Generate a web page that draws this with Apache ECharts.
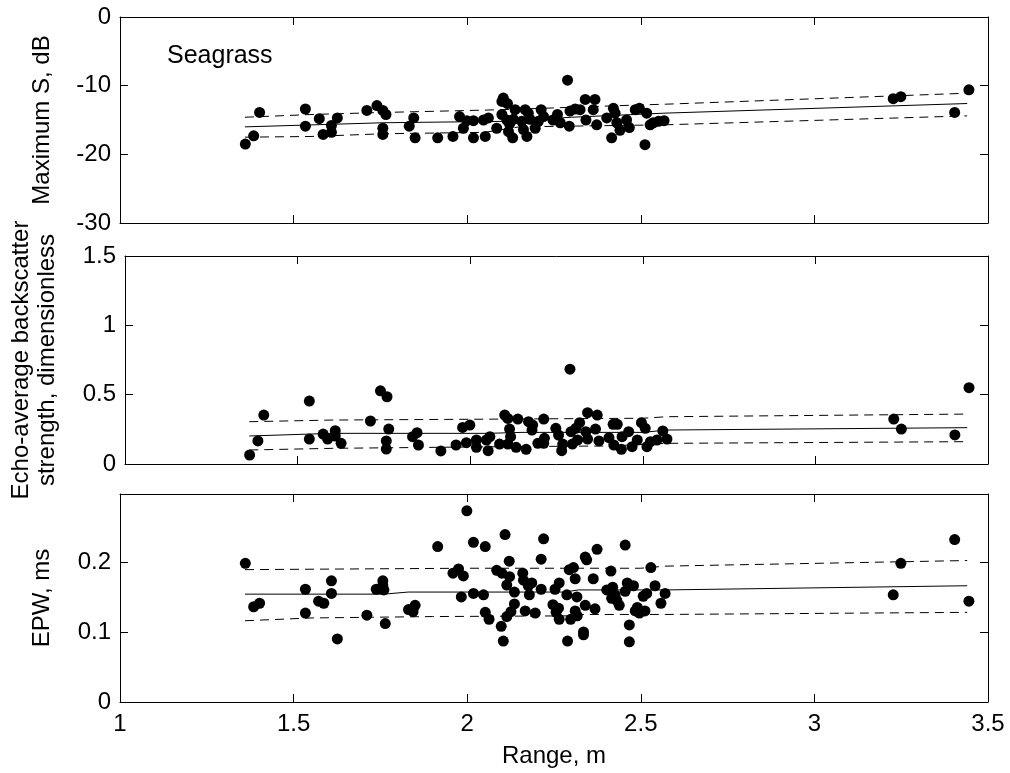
<!DOCTYPE html>
<html>
<head>
<meta charset="utf-8">
<title>Seagrass</title>
<script src="https://cdn.jsdelivr.net/npm/echarts@6/dist/echarts.min.js"></script>
<style>
  html, body { margin: 0; padding: 0; background: #fff; }
  #chart { width: 1010px; height: 773px; }
</style>
</head>
<body>
<div id="chart"></div>
<script>
// Range tick labels shared by all three panels
const rangeTicks = [1, 1.5, 2, 2.5, 3, 3.5];

// Panel 1: maximum backscatter strength S (dB) versus range (m)
const maxSPoints = [
  [1.361,-18.5],[1.385,-17.3],[1.402,-13.9],[1.534,-13.4],[1.534,-15.9],[1.574,-14.8],
  [1.585,-17.1],[1.609,-16.8],[1.609,-15.8],[1.626,-14.7],[1.711,-13.6],[1.740,-12.9],
  [1.757,-13.6],[1.766,-14.2],[1.757,-16.2],[1.757,-17.1],[1.833,-15.9],[1.846,-14.7],
  [1.850,-17.6],[1.915,-17.6],[1.959,-17.4],[1.978,-14.5],[1.989,-16.2],[1.999,-15.1],
  [2.018,-15.1],[2.018,-17.6],[2.047,-15.0],[2.052,-17.4],[2.061,-14.7],[2.085,-16.2],
  [2.100,-12.3],[2.104,-11.8],[2.116,-12.6],[2.100,-14.2],[2.114,-15.0],[2.133,-14.9],
  [2.138,-13.5],[2.119,-16.7],[2.131,-17.6],[2.122,-15.6],[2.157,-15.2],[2.167,-13.5],
  [2.172,-17.4],[2.162,-16.4],[2.176,-14.0],[2.181,-14.9],[2.196,-16.2],[2.205,-15.2],
  [2.213,-13.5],[2.220,-14.5],[2.247,-15.0],[2.260,-14.2],[2.268,-15.4],[2.289,-9.2],
  [2.294,-15.9],[2.296,-13.7],[2.311,-13.4],[2.325,-13.5],[2.340,-12.0],[2.342,-15.0],
  [2.363,-13.5],[2.368,-12.0],[2.373,-15.7],[2.402,-14.7],[2.416,-17.6],[2.421,-13.3],
  [2.426,-14.0],[2.431,-15.4],[2.440,-16.5],[2.459,-15.0],[2.467,-16.1],[2.484,-13.5],
  [2.496,-13.3],[2.512,-18.6],[2.517,-14.0],[2.527,-15.7],[2.536,-15.4],[2.551,-15.2],
  [2.567,-15.1],[3.227,-11.9],[3.249,-11.6],[3.404,-13.9],[3.445,-10.6]
];
const maxSFitX   = [1.36, 1.76, 2.10, 2.30, 2.57, 3.44];
const maxSFit    = [-16.0, -15.4, -15.2, -14.6, -14.0, -12.6];
const maxSUpperX = [1.36, 1.55, 1.76, 2.10, 2.50, 2.57, 3.44];
const maxSUpper  = [-14.6, -14.2, -13.9, -13.5, -12.8, -12.7, -11.1];
const maxSLowerX = [1.36, 1.55, 1.76, 2.05, 2.15, 2.57, 3.44];
const maxSLower  = [-17.5, -17.4, -17.0, -16.8, -16.0, -15.7, -14.4];

// Panel 2: echo-average backscatter strength (dimensionless) versus range
const echoPoints = [
  [1.361,0.065],[1.385,0.166],[1.402,0.353],[1.534,0.454],[1.534,0.180],[1.574,0.216],
  [1.587,0.180],[1.609,0.240],[1.609,0.202],[1.626,0.149],[1.711,0.310],[1.740,0.528],
  [1.759,0.485],[1.764,0.252],[1.757,0.166],[1.757,0.108],[1.833,0.197],[1.846,0.226],
  [1.850,0.137],[1.915,0.094],[1.959,0.137],[1.978,0.264],[1.989,0.154],[1.999,0.281],
  [2.018,0.173],[2.018,0.120],[2.047,0.173],[2.052,0.096],[2.057,0.197],[2.085,0.144],
  [2.100,0.353],[2.109,0.329],[2.138,0.324],[2.114,0.252],[2.117,0.197],[2.109,0.144],
  [2.133,0.120],[2.162,0.106],[2.169,0.305],[2.179,0.245],[2.181,0.281],[2.196,0.149],
  [2.213,0.324],[2.215,0.185],[2.213,0.149],[2.248,0.257],[2.256,0.209],[2.265,0.096],
  [2.268,0.144],[2.289,0.684],[2.292,0.233],[2.296,0.144],[2.306,0.257],[2.311,0.173],
  [2.317,0.298],[2.335,0.233],[2.340,0.180],[2.340,0.370],[2.368,0.353],[2.363,0.252],
  [2.373,0.166],[2.402,0.190],[2.414,0.286],[2.426,0.286],[2.416,0.137],[2.438,0.106],
  [2.440,0.197],[2.459,0.233],[2.469,0.125],[2.484,0.173],[2.496,0.298],[2.507,0.257],
  [2.512,0.125],[2.522,0.161],[2.541,0.173],[2.558,0.238],[2.570,0.180],[3.227,0.324],
  [3.249,0.252],[3.404,0.210],[3.445,0.550]
];
const echoFitX   = [1.36, 1.60, 2.05, 2.15, 2.50, 2.57, 3.44];
const echoFit    = [0.202, 0.221, 0.221, 0.228, 0.228, 0.245, 0.262];
const echoUpperX = [1.36, 1.60, 2.10, 2.50, 2.57, 3.44];
const echoUpper  = [0.305, 0.317, 0.324, 0.330, 0.341, 0.360];
const echoLowerX = [1.36, 1.60, 2.10, 2.40, 2.57, 3.44];
const echoLower  = [0.101, 0.113, 0.125, 0.130, 0.149, 0.161];

// Panel 3: echo pulse width EPW (ms) versus range
const epwPoints = [
  [1.361,0.198],[1.385,0.136],[1.402,0.141],[1.534,0.161],[1.534,0.127],[1.572,0.144],
  [1.587,0.141],[1.609,0.173],[1.609,0.155],[1.626,0.090],[1.711,0.124],[1.738,0.161],
  [1.757,0.173],[1.757,0.166],[1.760,0.160],[1.764,0.112],[1.831,0.132],[1.844,0.129],
  [1.850,0.138],[1.915,0.222],[1.959,0.184],[1.975,0.190],[1.989,0.180],[1.983,0.150],
  [1.999,0.273],[2.018,0.228],[2.018,0.155],[2.047,0.153],[2.052,0.222],[2.052,0.128],
  [2.063,0.118],[2.085,0.188],[2.100,0.184],[2.098,0.108],[2.104,0.087],[2.109,0.239],
  [2.121,0.201],[2.122,0.179],[2.114,0.167],[2.136,0.157],[2.136,0.140],[2.126,0.129],
  [2.114,0.122],[2.160,0.184],[2.162,0.174],[2.167,0.130],[2.176,0.166],[2.179,0.153],
  [2.186,0.170],[2.196,0.127],[2.213,0.204],[2.213,0.161],[2.220,0.233],[2.247,0.139],
  [2.253,0.161],[2.256,0.128],[2.265,0.170],[2.263,0.134],[2.265,0.118],[2.287,0.153],
  [2.289,0.087],[2.294,0.189],[2.306,0.192],[2.311,0.176],[2.316,0.150],[2.311,0.130],
  [2.317,0.123],[2.298,0.118],[2.335,0.100],[2.335,0.096],[2.340,0.207],[2.344,0.203],
  [2.340,0.138],[2.363,0.176],[2.368,0.133],[2.374,0.218],[2.402,0.160],[2.414,0.187],
  [2.419,0.164],[2.416,0.148],[2.426,0.153],[2.431,0.145],[2.438,0.138],[2.455,0.224],
  [2.455,0.158],[2.461,0.170],[2.467,0.110],[2.467,0.086],[2.479,0.166],[2.484,0.130],
  [2.490,0.135],[2.496,0.127],[2.512,0.130],[2.507,0.151],[2.517,0.155],[2.529,0.192],
  [2.541,0.166],[2.558,0.141],[2.570,0.155],[3.227,0.153],[3.249,0.198],[3.404,0.232],
  [3.445,0.144]
];
const epwFitX   = [1.36, 1.76, 1.83, 2.28, 2.32, 2.57, 3.44];
const epwFit    = [0.154, 0.154, 0.157, 0.157, 0.160, 0.160, 0.166];
const epwUpperX = [1.36, 2.00, 2.50, 2.57, 3.44];
const epwUpper  = [0.189, 0.191, 0.191, 0.194, 0.202];
const epwLowerX = [1.36, 1.55, 1.90, 2.30, 2.33, 2.57, 3.44];
const epwLower  = [0.116, 0.120, 0.122, 0.123, 0.125, 0.125, 0.128];

const FONT = '"Liberation Sans", Arial, Helvetica, sans-serif';
const INK = '#000';

const grids = [
  { left: 120, right: 22, top: 17,  height: 206 },
  { left: 120, right: 22, top: 256, height: 208 },
  { left: 120, right: 22, top: 494, height: 208 }
];

const panels = [
  { name: 'Maximum S, dB', min: -30, max: 0, interval: 10,
    points: maxSPoints, fit: [maxSFitX, maxSFit], upper: [maxSUpperX, maxSUpper], lower: [maxSLowerX, maxSLower] },
  { name: 'Echo-average backscatter\nstrength, dimensionless', min: 0, max: 1.5, interval: 0.5,
    points: echoPoints, fit: [echoFitX, echoFit], upper: [echoUpperX, echoUpper], lower: [echoLowerX, echoLower] },
  { name: 'EPW, ms', min: 0, max: 0.297, interval: 0.1,
    points: epwPoints, fit: [epwFitX, epwFit], upper: [epwUpperX, epwUpper], lower: [epwLowerX, epwLower] }
];

const tickStyle = { show: true, inside: true, length: 8, lineStyle: { color: INK, width: 1 } };
const lineStyleAxis = { show: true, onZero: false, lineStyle: { color: INK, width: 1 } };
const labelStyle = { color: INK, fontFamily: FONT, fontSize: 24 };

const xAxes = [], yAxes = [], series = [];

function pairs(xs, ys) { return xs.map((x, i) => [x, ys[i]]); }

panels.forEach((p, i) => {
  const isLast = i === panels.length - 1;
  // bottom range axis (labels only on the lowest panel)
  xAxes.push({
    type: 'value', gridIndex: i, position: 'bottom', min: 1, max: 3.5, interval: 0.5,
    axisLine: lineStyleAxis, axisTick: tickStyle, splitLine: { show: false },
    axisLabel: Object.assign({ show: isLast, margin: 10,
      formatter: v => rangeTicks.some(t => Math.abs(t - v) < 1e-9) ? String(+v.toFixed(1)) : '' }, labelStyle),
    name: isLast ? 'Range, m' : '', nameLocation: 'middle', nameGap: 42,
    nameTextStyle: { color: INK, fontFamily: FONT, fontSize: 24 }
  });
  // top frame edge with inward ticks
  xAxes.push({
    type: 'value', gridIndex: i, position: 'top', min: 1, max: 3.5, interval: 0.5,
    axisLine: lineStyleAxis, axisTick: tickStyle, axisLabel: { show: false }, splitLine: { show: false }
  });
  const step = p.interval;
  yAxes.push({
    type: 'value', gridIndex: i, position: 'left', min: p.min, max: p.max, interval: p.interval,
    axisLine: lineStyleAxis, axisTick: tickStyle, splitLine: { show: false },
    axisLabel: Object.assign({ margin: 9, showMaxLabel: i !== 2,
      formatter: v => {
        const k = Math.round(v / step);
        if (Math.abs(k * step - v) > 1e-6) return '';
        return String(+(k * step).toFixed(2));
      } }, labelStyle),
    name: p.name, nameLocation: 'middle', nameRotate: 90, nameGap: 65,
    nameTextStyle: { color: INK, fontFamily: FONT, fontSize: 24, lineHeight: 26, align: 'center' }
  });
  // right frame edge with inward ticks
  yAxes.push({
    type: 'value', gridIndex: i, position: 'right', min: p.min, max: p.max, interval: p.interval,
    axisLine: lineStyleAxis, axisTick: tickStyle, axisLabel: { show: false }, splitLine: { show: false }
  });

  const xi = i * 2, yi = i * 2;
  series.push({
    type: 'scatter', xAxisIndex: xi, yAxisIndex: yi, data: p.points,
    symbol: 'circle', symbolSize: 11, itemStyle: { color: INK, opacity: 1 }, silent: true, z: 3
  });
  series.push({
    type: 'line', xAxisIndex: xi, yAxisIndex: yi, data: pairs(p.fit[0], p.fit[1]),
    showSymbol: false, lineStyle: { color: INK, width: 1, type: 'solid' }, silent: true, z: 2
  });
  [p.upper, p.lower].forEach(b => series.push({
    type: 'line', xAxisIndex: xi, yAxisIndex: yi, data: pairs(b[0], b[1]),
    showSymbol: false, lineStyle: { color: INK, width: 1, type: [9, 6] }, silent: true, z: 2
  }));
});

const chart = echarts.init(document.getElementById('chart'), null, { renderer: 'canvas' });
chart.setOption({
  backgroundColor: '#fff',
  animation: false,
  grid: grids,
  xAxis: xAxes,
  yAxis: yAxes,
  series: series,
  graphic: [{
    type: 'text', left: 167, top: 44,
    style: { text: 'Seagrass', fill: INK, font: '25px ' + FONT }
  }]
});
</script>
</body>
</html>
